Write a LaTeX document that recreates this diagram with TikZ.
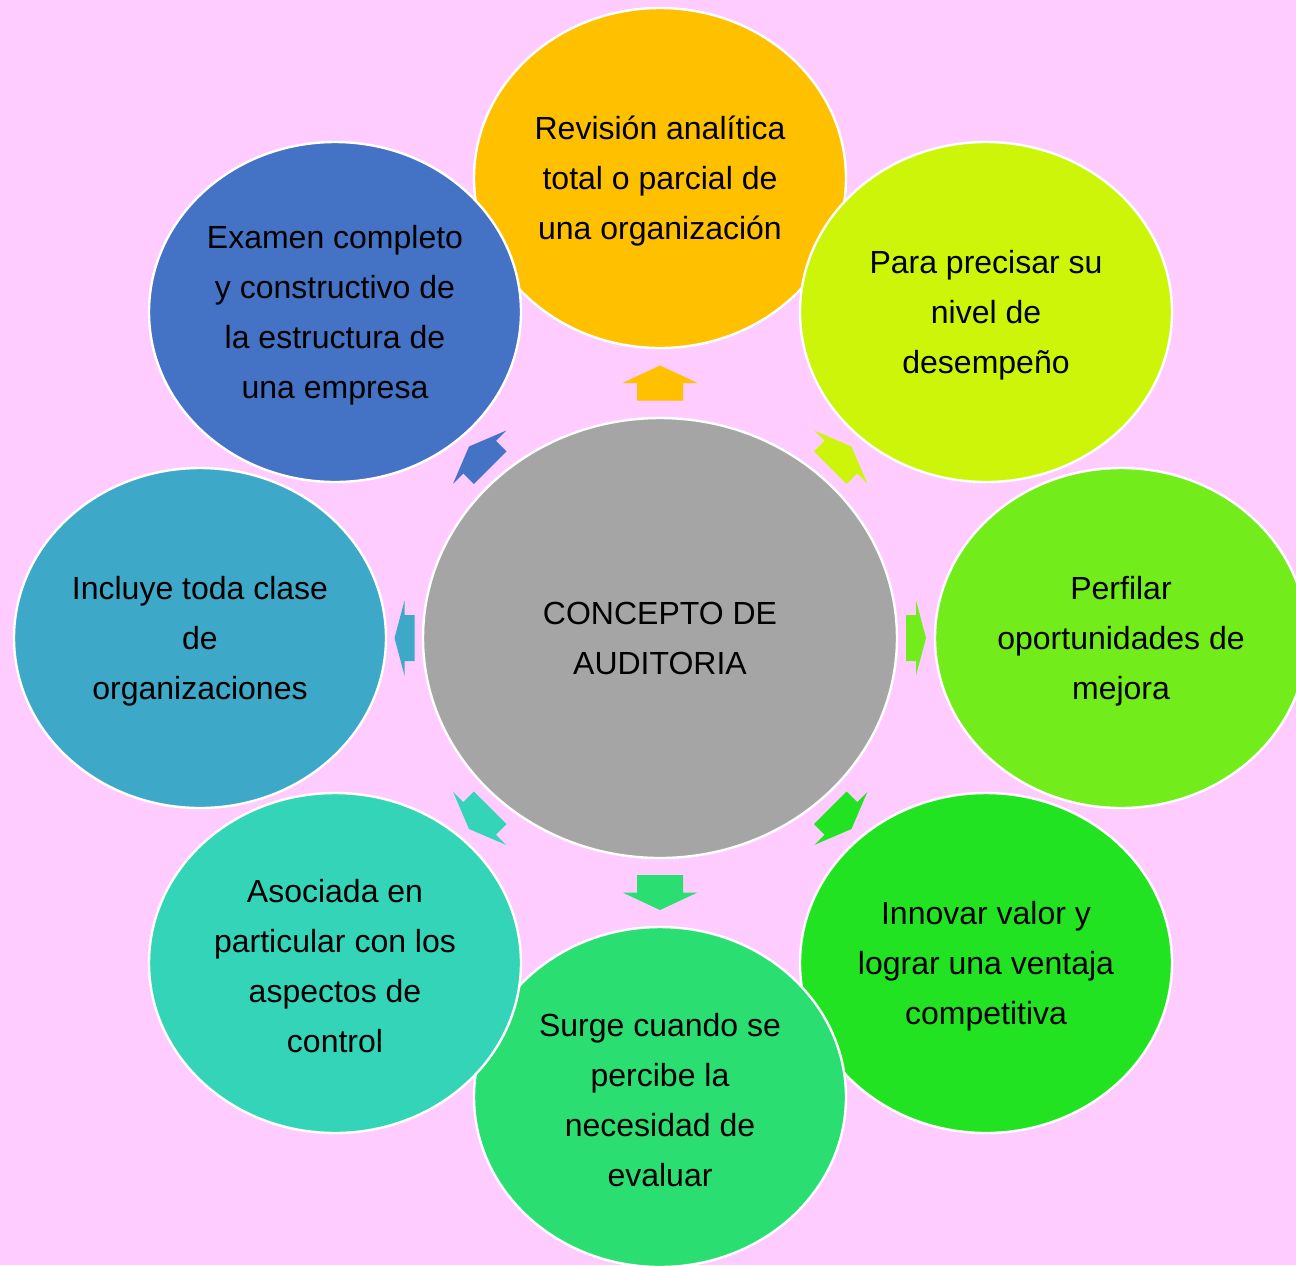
\documentclass[tikz,border=0pt]{standalone}
\usepackage{fontspec}
\setmainfont{Liberation Sans}
\usetikzlibrary{shapes.geometric,calc}

\definecolor{bgpink}{RGB}{255,204,255}
\definecolor{cgray}{RGB}{165,165,165}
\definecolor{corange}{RGB}{255,192,0}
\definecolor{clime}{RGB}{204,245,10}
\definecolor{cgreenA}{RGB}{114,236,26}
\definecolor{cgreenB}{RGB}{34,227,34}
\definecolor{cgreenC}{RGB}{42,222,114}
\definecolor{cteal}{RGB}{51,212,184}
\definecolor{ccyan}{RGB}{62,168,200}
\definecolor{cblue}{RGB}{68,114,196}

\tikzset{
  bubble/.style={ellipse, draw=white, line width=1.2pt, inner sep=0pt,
    minimum width=186pt, minimum height=170pt},
  hub/.style={ellipse, draw=white, line width=1.2pt, inner sep=0pt,
    minimum width=237pt, minimum height=220pt, fill=cgray},
  txt/.style={align=center, font=\fontsize{16}{25}\selectfont, text=black},
  lbl/.style={txt, yshift=-1.5pt},
}

% block arrow halfway between two anchors
\newcommand{\blockarrow}[5]{%
  \fill[#5, shift={($(#1)!0.5!(#2)$)}, rotate=#3]
    (-#4/2,-23) -- (0,-23) -- (0,-37.5) -- (#4/2,0)
    -- (0,37.5) -- (0,23) -- (-#4/2,23) -- cycle;
}

\begin{document}
\begin{tikzpicture}[x=0.5pt, y=-0.5pt]
\fill[bgpink] (0,0) rectangle (1296,1265);
\useasboundingbox (0,0) rectangle (1296,1265);

\node[hub] (concepto) at (660,638) {};
\node[txt] (concepto-t) at (concepto) {CONCEPTO DE\\AUDITORIA};

\node[bubble, fill=corange] (revision) at (660,178) {};
\node[lbl] (revision-t) at (revision) {Revisión analítica\\total o parcial de\\una organización};

\node[bubble, fill=clime] (precisar) at (986,312) {};
\node[lbl] (precisar-t) at (precisar) {Para precisar su\\nivel de\\desempeño};

\node[bubble, fill=cgreenA] (perfilar) at (1121,638) {};
\node[lbl] (perfilar-t) at (perfilar) {Perfilar\\oportunidades de\\mejora};

\node[bubble, fill=cgreenB] (innovar) at (986,963) {};
\node[lbl] (innovar-t) at (innovar) {Innovar valor y\\lograr una ventaja\\competitiva};

\node[bubble, fill=cgreenC] (surge) at (660,1097) {};
\node[lbl] (surge-t) at (surge) {Surge cuando se\\percibe la\\necesidad de\\evaluar};

\node[bubble, fill=cteal] (asociada) at (335,963) {};
\node[lbl] (asociada-t) at (asociada) {Asociada en\\particular con los\\aspectos de\\control};

\node[bubble, fill=ccyan] (incluye) at (200,638) {};
\node[lbl] (incluye-t) at (incluye) {Incluye toda clase\\de\\organizaciones};

\node[bubble, fill=cblue] (examen) at (335,312) {};
\node[lbl] (examen-t) at (examen) {Examen completo\\y constructivo de\\la estructura de\\una empresa};

% arrows
\blockarrow{concepto.north}{revision.south}{90}{35}{corange}
\blockarrow{concepto.45}{precisar.225}{45}{30}{clime}
\blockarrow{concepto.east}{perfilar.west}{0}{20}{cgreenA}
\blockarrow{concepto.-45}{innovar.135}{-45}{30}{cgreenB}
\blockarrow{concepto.south}{surge.north}{-90}{35}{cgreenC}
\blockarrow{concepto.-135}{asociada.45}{-135}{30}{cteal}
\blockarrow{concepto.west}{incluye.east}{180}{20}{ccyan}
\blockarrow{concepto.135}{examen.-45}{135}{30}{cblue}
\end{tikzpicture}
\end{document}
